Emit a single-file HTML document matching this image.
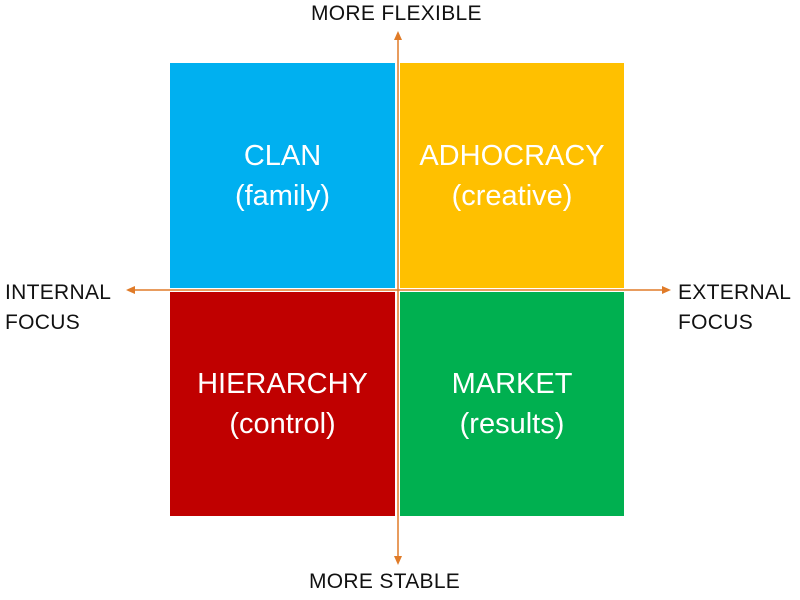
<!DOCTYPE html>
<html><head><style>
body{margin:0;width:800px;height:600px;background:#fff;position:relative;overflow:hidden;font-family:"Liberation Sans",sans-serif}
.q{position:absolute;color:#fff;font-size:29px;text-align:center;display:flex;flex-direction:column;justify-content:center;line-height:40px}
.l{position:absolute;color:#111;font-size:21px;line-height:30px;letter-spacing:0.3px;white-space:nowrap}
</style></head><body>
<div class="q" style="left:170px;top:63px;width:225px;height:225px;background:#00B0F0">CLAN<br>(family)</div>
<div class="q" style="left:400px;top:63px;width:224px;height:225px;background:#FFC000">ADHOCRACY<br>(creative)</div>
<div class="q" style="left:170px;top:292px;width:225px;height:224px;background:#C00000">HIERARCHY<br>(control)</div>
<div class="q" style="left:400px;top:292px;width:224px;height:224px;background:#00B050">MARKET<br>(results)</div>
<svg width="800" height="600" style="position:absolute;left:0;top:0">
<g stroke="#E07B28" stroke-width="1.5" fill="#E07B28">
<line x1="398" y1="38" x2="398" y2="558"/>
<line x1="133" y1="290" x2="664" y2="290"/>
<polygon points="398,31 394,40 402,40" stroke="none"/>
<polygon points="398,565 394,556 402,556" stroke="none"/>
<polygon points="126,290 135,286 135,294" stroke="none"/>
<polygon points="671,290 662,286 662,294" stroke="none"/>
</g></svg>
<div class="l" style="left:311px;top:-1px">MORE FLEXIBLE</div>
<div class="l" style="left:309px;top:567px">MORE STABLE</div>
<div class="l" style="left:5px;top:278px">INTERNAL<br>FOCUS</div>
<div class="l" style="left:678px;top:278px">EXTERNAL<br>FOCUS</div>
</body></html>
